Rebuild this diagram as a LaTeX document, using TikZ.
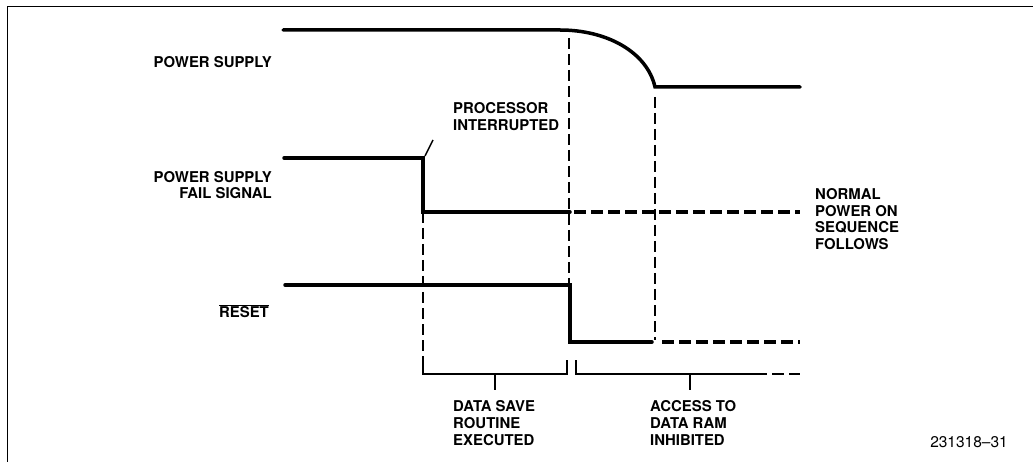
\documentclass[tikz,border=0pt]{standalone}
\usepackage{fontspec}
\setmainfont{TeX Gyre Heros}
\usetikzlibrary{calc, positioning}

\begin{document}
\begin{tikzpicture}[>=latex, x=1pt, y=-1pt,
    sig/.style={line width=3.5pt, line join=miter},
    sigdash/.style={line width=3.5pt, dash pattern=on 12pt off 5pt},
    guide/.style={line width=2.4pt, dash pattern=on 11pt off 5pt},
    brk/.style={line width=1.8pt},
    lbl/.style={font=\bfseries\fontsize{14.9}{16.7}\selectfont, inner sep=0pt}]

    \useasboundingbox (0,0) rectangle (1033,462);

    % 1. Khung
    \draw[line width=1.8pt] (1033,6.5) -- (7.5,6.5) -- (7.5,462);

    % 2. Các điểm mốc
    \coordinate (psKnee) at (655,87);
    \coordinate (failEdge) at (423,158);
    \coordinate (failLow) at (423,212);
    \coordinate (rstEdge) at (570,285);
    \coordinate (rstLow) at (570,342);

    % 3. Tín hiệu
    % POWER SUPPLY
    \draw[sig, line cap=round]
        (283,30) -- (560,30) .. controls (607,30) and (647,52) .. (psKnee)
        -- (800,87);
    % POWER SUPPLY FAIL SIGNAL
    \draw[sig, line cap=round] (284,158) -- (failEdge) -- (failLow) -- (570,212);
    \draw[sigdash] (574,212) -- (800,212);
    % RESET
    \draw[sig, line cap=round] (285,285) -- (rstEdge) -- (rstLow) -- (652,342);
    \draw[sigdash] (662,342) -- (800,342);

    % 4. Đường gióng nét đứt
    \draw[guide] (failLow) -- (423,360);
    \draw[guide] (569,38) -- (569,342);
    \draw[guide] (psKnee) ++(0,10) -- (655,340);

    % 5. Ngoặc khoảng thời gian
    \draw[brk] (423,360) -- (423,374) -- (567,374) -- (567,360);
    \draw[brk] (495,374) -- (495,390);
    \draw[brk] (576,360) -- (576,374) -- (767,374);
    \draw[brk] (772,374) -- (784,374);
    \draw[brk] (789,374) -- (800,374);
    \draw[brk] (690,374) -- (690,390);

    % 6. Nhãn
    \node[lbl, anchor=east] (psLbl) at (272,62) {POWER SUPPLY};
    \node[lbl, anchor=east, align=right] (failLbl) at (272,185)
        {POWER SUPPLY\\FAIL SIGNAL};
    \node[lbl, anchor=east] (rstLbl) at (269,311) {$\overline{\hbox{RESET}}$};
    \node[lbl, anchor=west, align=left] (procLbl) at (453,116.5)
        {PROCESSOR\\INTERRUPTED};
    \node[lbl, anchor=west, align=left] (normLbl) at (815,219)
        {NORMAL\\POWER ON\\SEQUENCE\\FOLLOWS};
    \node[lbl, anchor=west, align=left] (saveLbl) at (453,423)
        {DATA SAVE\\ROUTINE\\EXECUTED};
    \node[lbl, anchor=west, align=left] (ramLbl) at (650,423)
        {ACCESS TO\\DATA RAM\\INHIBITED};
    \node[font=\fontsize{15.5}{18}\selectfont, inner sep=0pt, anchor=east]
        (figNo) at (1008,442) {231318–31};

    % 7. Đường chỉ dẫn
    \draw[line width=1.5pt] (failEdge) ++(2,-2) -- ++(8,-16);
\end{tikzpicture}
\end{document}
